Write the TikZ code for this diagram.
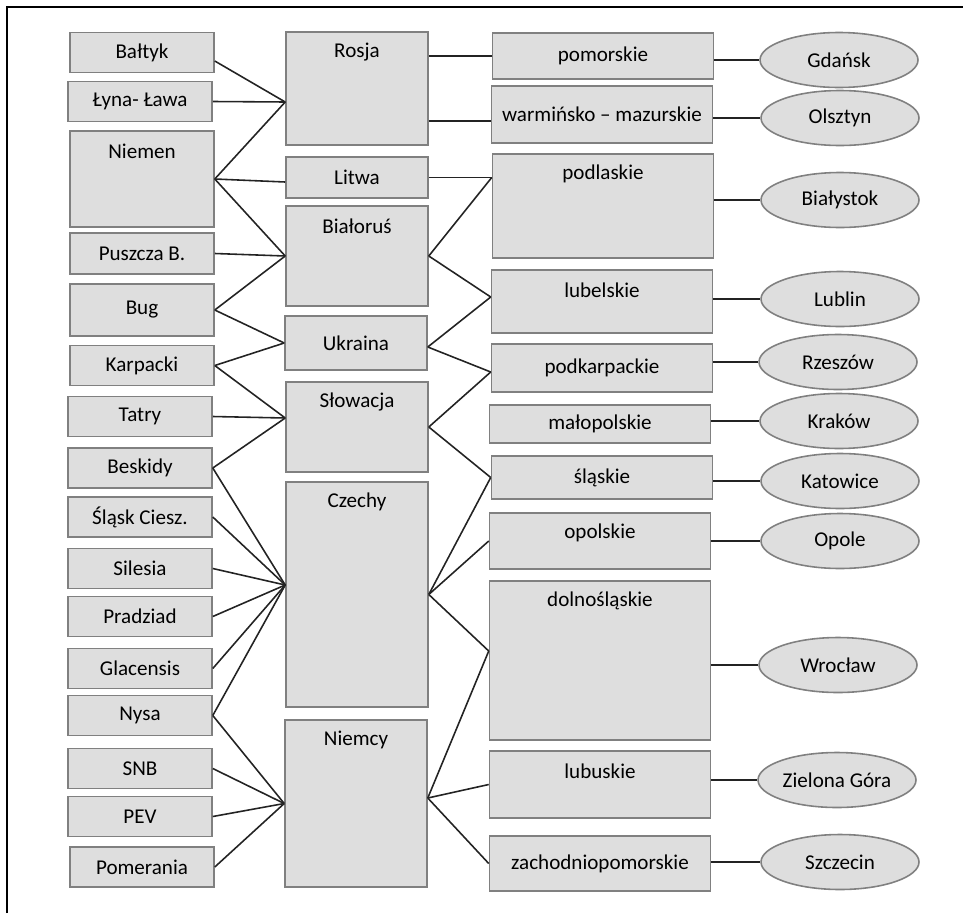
\documentclass[tikz,border=0pt]{standalone}
\usepackage{fontspec}
\setmainfont{Carlito}
\usepackage{tikz}
\usetikzlibrary{shapes.geometric,positioning}
\definecolor{boxgray}{RGB}{222,222,222}
\definecolor{edgegray}{RGB}{128,128,128}
\definecolor{linkgray}{RGB}{35,35,35}
\tikzset{
  every node/.style={font=\fontsize{12}{14}\selectfont},
  anybox/.style={draw=edgegray,fill=boxgray,line width=0.9pt,inner sep=0pt,rectangle},
  lbox/.style={anybox,minimum width=2.88cm,minimum height=0.8cm},
  mbox/.style={anybox,minimum width=2.84cm},
  rbox/.style={anybox,minimum width=4.42cm},
  city/.style={ellipse,draw=edgegray,fill=boxgray,line width=0.9pt,inner sep=0pt,minimum width=3.16cm,minimum height=1.1cm},
  headtext/.style={label={[anchor=center,yshift=-0.42cm]north:#1}},
  link/.style={draw=linkgray,line width=0.9pt},
  frame/.style={draw=black,line width=0.7pt}
}

\begin{document}
\begin{tikzpicture}[x=0.02cm,y=-0.02cm]
  \useasboundingbox (0,0) rectangle (963,913);
  \draw[frame] (7,913) -- (7,7) -- (963,7);

  \node[lbox] (baltyk) at (142,52.5) {Bałtyk};
  \node[lbox] (lyna) at (140,101.5) {Łyna- Ława};
  \node[lbox,minimum height=1.92cm,headtext=Niemen] (niemen) at (142,179) {};
  \node[lbox,minimum height=0.82cm] (puszcza) at (142,253.5) {Puszcza B.};
  \node[lbox,minimum height=1.04cm] (bug) at (142,310) {Bug};
  \node[lbox] (karpacki) at (142,365.5) {Karpacki};
  \node[lbox] (tatry) at (140,416.5) {Tatry};
  \node[lbox] (beskidy) at (140,468) {Beskidy};
  \node[lbox] (slaskc) at (140,517) {Śląsk Ciesz.};
  \node[lbox] (silesia) at (140,568.5) {Silesia};
  \node[lbox] (pradziad) at (140,616.5) {Pradziad};
  \node[lbox] (glacensis) at (140,668.5) {Glacensis};
  \node[lbox] (nysa) at (140,715.5) {Nysa};
  \node[lbox] (snb) at (140,768.5) {SNB};
  \node[lbox] (pev) at (140,816.5) {PEV};
  \node[lbox] (pomerania) at (142,867) {Pomerania};

  \node[mbox,minimum height=2.26cm,headtext=Rosja] (rosja) at (357,88.5) {};
  \node[mbox,minimum height=0.82cm] (litwa) at (357,177.5) {Litwa};
  \node[mbox,minimum height=2cm,headtext=Białoruś] (bialorus) at (357,256) {};
  \node[mbox,minimum height=1.08cm] (ukraina) at (356,343) {Ukraina};
  \node[mbox,minimum height=1.8cm,headtext=Słowacja] (slowacja) at (357,427) {};
  \node[mbox,minimum height=4.5cm,headtext=Czechy] (czechy) at (357,594.5) {};
  \node[mbox,minimum height=3.34cm,headtext=Niemcy] (niemcy) at (356,803.5) {};

  \node[rbox,minimum height=0.92cm] (pom) at (603,56) {pomorskie};
  \node[rbox,minimum height=1.14cm] (warm) at (602,114.5) {warmińsko – mazurskie};
  \node[rbox,minimum height=2.08cm,headtext=podlaskie] (podl) at (603,206) {};
  \node[rbox,minimum height=1.26cm,headtext=lubelskie] (lubel) at (602,301.5) {};
  \node[rbox,minimum height=0.96cm] (podk) at (602,368) {podkarpackie};
  \node[rbox,minimum height=0.76cm] (malop) at (600,424) {małopolskie};
  \node[rbox,minimum height=0.86cm] (slaskie) at (602,477.5) {śląskie};
  \node[rbox,minimum height=1.12cm,headtext=opolskie] (opol) at (600,541) {};
  \node[rbox,minimum height=3.18cm,headtext=dolnośląskie] (dolno) at (600,660.5) {};
  \node[rbox,minimum height=1.34cm,headtext=lubuskie] (lubus) at (600,784.5) {};
  \node[rbox,minimum height=1.1cm] (zach) at (600,863.5) {zachodniopomorskie};

  \node[city] (gdansk) at (839,60) {Gdańsk};
  \node[city] (olsztyn) at (840,118) {Olsztyn};
  \node[city] (bialystok) at (840,200) {Białystok};
  \node[city] (lublin) at (840,299) {Lublin};
  \node[city] (rzeszow) at (838,362) {Rzeszów};
  \node[city] (krakow) at (839,421) {Kraków};
  \node[city] (katowice) at (840,481) {Katowice};
  \node[city] (opole) at (840,541) {Opole};
  \node[city] (wroclaw) at (838,665) {Wrocław};
  \node[city] (zielona) at (837,780) {Zielona Góra};
  \node[city] (szczecin) at (840,862) {Szczecin};

  \coordinate (rosjaL) at ([yshift=-0.27cm]rosja.west);
  \coordinate (litwaL) at ([yshift=-0.09cm]litwa.west);
  \coordinate (slowL) at ([yshift=0.18cm]slowacja.west);
  \coordinate (czL) at ([yshift=0.19cm]czechy.west);
  \coordinate (ukrR) at ([yshift=-0.08cm]ukraina.east);
  \coordinate (niemR) at ([yshift=0.11cm]niemcy.east);
  \coordinate (podlL) at (podl.west |- litwa.east);
  \coordinate (lubelL) at ([yshift=0.09cm]lubel.west);
  \coordinate (podkL) at ([yshift=-0.08cm]podk.west);
  \coordinate (dolnoL) at ([yshift=0.19cm]dolno.west);

  \draw[link] ([yshift=-0.17cm]baltyk.east) -- (rosjaL);
  \foreach \a/\b in {lyna/rosjaL,niemen/rosjaL,niemen/litwaL,niemen/bialorus.west,
      puszcza/bialorus.west,bug/bialorus.west,bug/ukraina.west,karpacki/ukraina.west,
      karpacki/slowL,tatry/slowL,beskidy/slowL,beskidy/czL,slaskc/czL,silesia/czL,
      pradziad/czL,glacensis/czL,nysa/czL,nysa/niemcy.west,snb/niemcy.west,
      pev/niemcy.west,pomerania/niemcy.west}
    \draw[link] (\a.east) -- (\b);

  \draw[link] (rosja.east |- pom.west) -- (pom.west);
  \draw[link] ([yshift=-0.13cm]rosja.east |- warm.west) -- ([yshift=-0.13cm]warm.west);
  \foreach \a/\b in {litwa.east/podlL,bialorus.east/podlL,bialorus.east/lubelL,
      ukrR/lubelL,ukrR/podkL,slowacja.east/podkL,slowacja.east/slaskie.west,
      czechy.east/slaskie.west,czechy.east/opol.west,czechy.east/dolnoL,
      niemR/dolnoL,niemR/lubus.west,niemR/zach.west}
    \draw[link] (\a) -- (\b);

  \foreach \r/\c in {pom/gdansk,warm/olsztyn,podl/bialystok,lubel/lublin,podk/rzeszow,
      malop/krakow,slaskie/katowice,opol/opole,dolno/wroclaw,lubus/zielona,zach/szczecin}
    \draw[link] (\r.east |- \c.west) -- (\c.west);
\end{tikzpicture}
\end{document}
